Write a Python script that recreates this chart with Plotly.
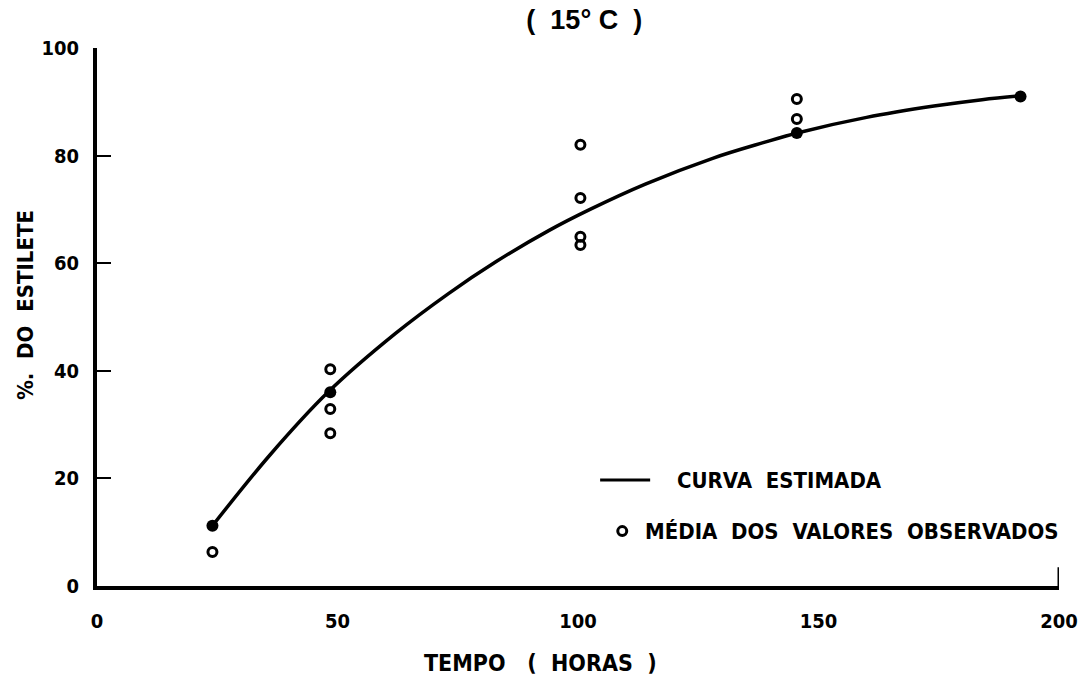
import plotly.graph_objects as go

# Fitted curve (estimated), read along its length
curve_hours = [24, 36, 48, 62, 73, 83, 94, 102.5, 114, 128, 138.5, 146, 160, 174, 184, 192]
curve_pct = [11.2, 24.4, 36.0, 46.9, 54.3, 60.3, 66.1, 70.0, 74.7, 79.5, 82.4, 84.3, 87.1, 89.2, 90.4, 91.1]

# Observed means (open circles)
obs_hours = [24, 48.5, 48.5, 48.5, 100.5, 100.5, 100.5, 100.5, 145.5, 145.5]
obs_pct = [6.3, 40.3, 32.9, 28.4, 82.0, 72.1, 64.9, 63.4, 90.5, 86.8]

# Observed means lying on the curve (drawn solid)
on_curve_hours = [24, 48.5, 145.5, 192]
on_curve_pct = [11.2, 36.0, 84.2, 91.0]

x_ticks = [0, 50, 100, 150, 200]
y_ticks = [0, 20, 40, 60, 80, 100]

FONT = "DejaVu Sans Condensed"
BLACK = "#000000"

fig = go.Figure()

fig.add_trace(go.Scatter(
    x=curve_hours, y=curve_pct, mode="lines",
    line=dict(color=BLACK, width=3.5, shape="spline", smoothing=1.0),
    name="CURVA ESTIMADA", showlegend=False,
))
fig.add_trace(go.Scatter(
    x=obs_hours, y=obs_pct, mode="markers",
    marker=dict(symbol="circle-open", size=9, color=BLACK, line=dict(width=3)),
    name="MÉDIA DOS VALORES OBSERVADOS", showlegend=False,
))
fig.add_trace(go.Scatter(
    x=on_curve_hours, y=on_curve_pct, mode="markers",
    marker=dict(symbol="circle", size=12, color=BLACK),
    showlegend=False,
))

tick_font = dict(family=FONT, size=20, color=BLACK, weight="bold")

fig.update_xaxes(
    range=[0, 200], tickvals=x_ticks, ticks="", showgrid=False, zeroline=False,
    showline=True, linecolor=BLACK, linewidth=4, tickfont=tick_font,
    ticklabelstandoff=14, automargin=False,
)
fig.update_yaxes(
    range=[0, 100], tickvals=y_ticks, ticks="inside", ticklen=14, tickwidth=2,
    tickcolor=BLACK, showgrid=False, zeroline=False,
    showline=True, linecolor=BLACK, linewidth=4, tickfont=tick_font,
    ticklabelstandoff=10, automargin=False,
)

# end tick at the right of the time axis
fig.add_shape(type="line", xref="x", yref="y", x0=200, x1=200, y0=0, y1=3.5,
              line=dict(color=BLACK, width=3))

label_font = dict(family=FONT, size=22, color=BLACK, weight="bold")

# hand-placed key
fig.add_shape(type="line", xref="paper", yref="paper", x0=0.523, x1=0.575,
              y0=0.197, y1=0.197, line=dict(color=BLACK, width=3))
fig.add_annotation(xref="paper", yref="paper", x=0.601, y=0.197, xanchor="left",
                   yanchor="middle", text="CURVA  ESTIMADA", showarrow=False,
                   font=label_font)
fig.add_shape(type="circle", xref="paper", yref="paper", xsizemode="pixel",
              ysizemode="pixel", xanchor=0.546, yanchor=0.102,
              x0=-4.5, x1=4.5, y0=-4.5, y1=4.5, line=dict(color=BLACK, width=3))
fig.add_annotation(xref="paper", yref="paper", x=0.568, y=0.102, xanchor="left",
                   yanchor="middle", text="MÉDIA  DOS  VALORES  OBSERVADOS",
                   showarrow=False, font=label_font)

# axis titles
fig.add_annotation(xref="paper", yref="paper", x=0.461, y=-0.143, xanchor="center",
                   yanchor="middle", text="TEMPO   (  HORAS  )", showarrow=False,
                   font=dict(family=FONT, size=23, color=BLACK, weight="bold"))
fig.add_annotation(xref="paper", yref="paper", x=-0.075, y=0.522, xanchor="center",
                   yanchor="middle", text="%.  DO  ESTILETE", textangle=-90,
                   showarrow=False, font=label_font)

fig.update_layout(
    width=1082, height=681,
    margin=dict(l=97, r=23, t=48, b=95),
    paper_bgcolor="white", plot_bgcolor="white",
    title=dict(text="(  15° C  )", x=0.54, xanchor="center", y=0.972, yanchor="middle",
               font=dict(family="Liberation Sans", size=27, color=BLACK, weight="bold")),
)

fig.write_html("out.html")
